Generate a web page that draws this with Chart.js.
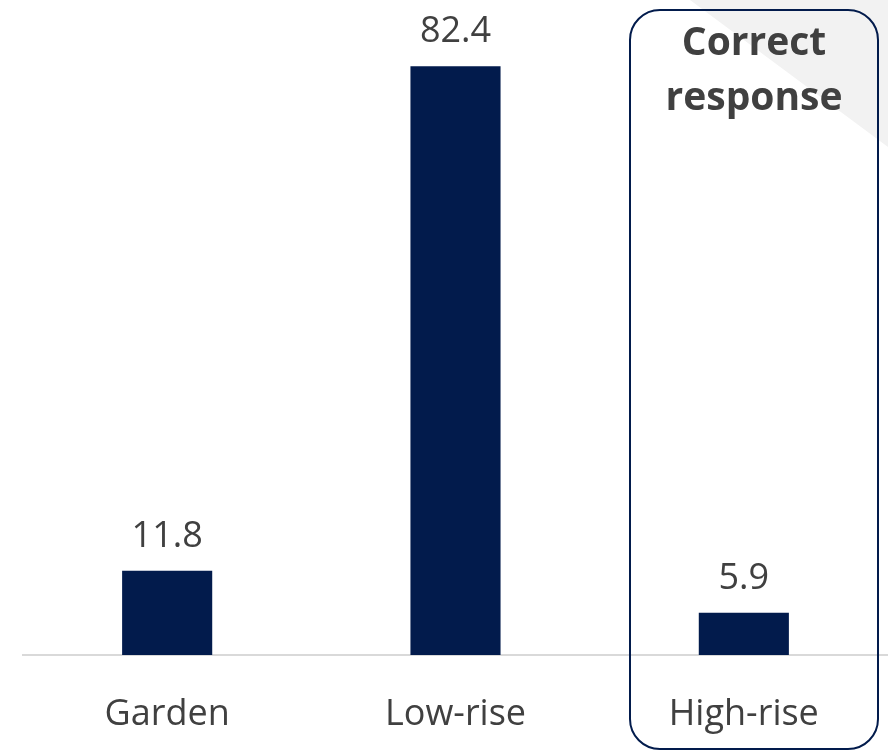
<!DOCTYPE html>
<html>
<head>
<meta charset="utf-8">
<script src="https://cdn.jsdelivr.net/npm/chart.js@4.4.1/dist/chart.umd.min.js"></script>
<style>
  html, body { margin: 0; padding: 0; background: #ffffff; }
  #wrap { width: 888px; height: 751px; position: relative; }
</style>
</head>
<body>
<div id="wrap"><canvas id="barChart"></canvas></div>
<script>
const categories = ["Garden", "Low-rise", "High-rise"];
const percentValues = [11.8, 82.4, 5.9];
const highlightLines = ["Correct", "response"];

const textGray = "#404040";
const navy = "#021b4c";

// little plugin for the value labels, the corner shading and the highlight box
let decorations = {
  id: "decorations",

  beforeDraw: function (chart) {
    const ctx = chart.ctx;
    ctx.save();
    ctx.fillStyle = "#f2f2f2";
    ctx.beginPath();
    ctx.moveTo(690, 0);
    ctx.lineTo(888, 0);
    ctx.lineTo(888, 147);
    ctx.closePath();
    ctx.fill();
    ctx.restore();
  },

  afterDatasetsDraw: function (chart) {
    const ctx = chart.ctx;
    const meta = chart.getDatasetMeta(0);

    ctx.save();
    ctx.fillStyle = textGray;
    ctx.font = "36px 'Open Sans'";
    ctx.textAlign = "center";
    ctx.textBaseline = "alphabetic";
    meta.data.forEach(function (bar, i) {
      ctx.fillText(percentValues[i].toFixed(1), bar.x, bar.y - 24);
    });
    ctx.restore();
  },

  afterDraw: function (chart) {
    const ctx = chart.ctx;
    ctx.save();
    ctx.strokeStyle = navy;
    ctx.lineWidth = 2;
    ctx.beginPath();
    ctx.roundRect(630, 10, 248, 739, 30);
    ctx.stroke();

    ctx.fillStyle = textGray;
    ctx.font = "bold 39px 'Open Sans'";
    ctx.textAlign = "center";
    ctx.textBaseline = "alphabetic";
    ctx.fillText(highlightLines[0], 754, 55);
    ctx.fillText(highlightLines[1], 754, 110);
    ctx.restore();
  }
};

let ctx = document.getElementById("barChart").getContext("2d");
let barChart = new Chart(ctx, {
  type: "bar",
  data: {
    labels: categories,
    datasets: [{
      data: percentValues,
      backgroundColor: navy,
      borderWidth: 0,
      barPercentage: 0.3125,
      categoryPercentage: 1
    }]
  },
  options: {
    responsive: true,
    maintainAspectRatio: false,
    animation: false,
    layout: {
      padding: { top: 12, left: 23, right: 0, bottom: 0 }
    },
    plugins: {
      legend: { display: false },
      tooltip: { enabled: false }
    },
    scales: {
      x: {
        grid: { display: false, drawTicks: false },
        border: { display: true, color: "#d9d9d9", width: 2 },
        ticks: {
          color: textGray,
          padding: 38,
          font: { family: "'Open Sans'", size: 36 }
        },
        afterFit: function (scale) {
          scale.height = 96;
        }
      },
      y: {
        display: false,
        min: 0,
        max: 90
      }
    }
  },
  plugins: [decorations]
});
</script>
</body>
</html>
